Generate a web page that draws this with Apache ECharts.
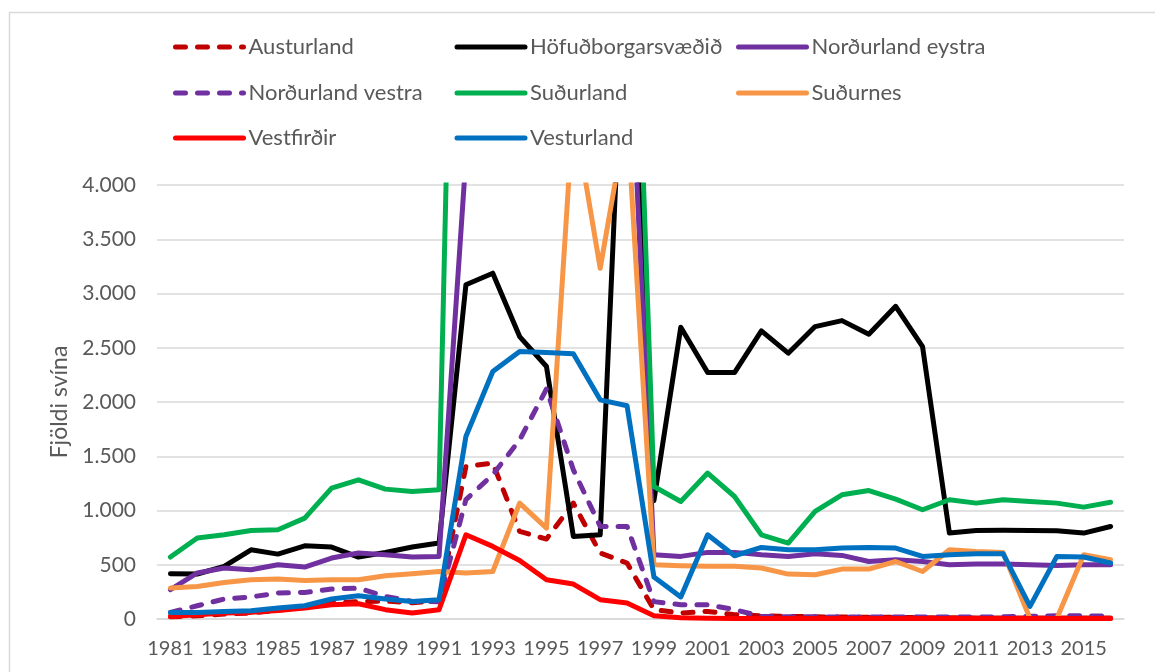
<!DOCTYPE html>
<html>
<head>
<meta charset="utf-8">
<script src="https://cdn.jsdelivr.net/npm/echarts@6/dist/echarts.min.js"></script>
<style>html,body{margin:0;padding:0;background:#fff;}#c{width:1155px;height:672px;}</style>
</head>
<body>
<div id="c"></div>
<script>
const years = ['1981','1982','1983','1984','1985','1986','1987','1988','1989','1990','1991','1992','1993','1994','1995','1996','1997','1998','1999','2000','2001','2002','2003','2004','2005','2006','2007','2008','2009','2010','2011','2012','2013','2014','2015','2016'];
const yTicks = [0, 500, 1000, 1500, 2000, 2500, 3000, 3500, 4000];

const austurland = [20,30,45,55,80,110,150,160,165,150,170,1405,1437,807,737,1068,608,516,86,55,70,40,30,25,20,18,15,15,12,12,10,10,10,10,10,10];
const hofudborg = [417,415,485,638,598,675,663,571,613,663,700,3081,3187,2603,2327,761,776,6400,1090,2689,2271,2271,2655,2450,2695,2750,2625,2882,2511,792,815,818,816,813,792,853];
const nordEystra = [270,424,470,454,500,479,562,608,592,571,577,4250,4700,4900,5200,5400,5600,6000,592,577,614,614,592,577,601,586,530,546,530,500,506,506,500,494,500,500];
const nordVestra = [61,122,184,203,240,245,276,285,208,162,160,1100,1330,1650,2120,1375,853,853,160,132,132,86,24,20,20,18,18,18,18,18,18,20,25,30,30,25];
const sudurland = [571,746,776,816,822,930,1206,1283,1197,1175,1191,12000,11500,11000,10500,10000,9500,8400,1221,1083,1345,1129,776,700,991,1145,1184,1105,1007,1099,1068,1099,1083,1068,1031,1076];
const sudurnes = [285,300,337,362,368,355,362,362,399,417,438,424,438,1068,838,4700,3233,4650,500,491,486,486,470,414,408,460,460,530,438,638,623,614,5,5,592,546];
const vestfirdir = [24,40,55,61,79,101,132,141,86,55,86,776,669,540,362,322,178,147,30,12,8,5,5,5,5,5,5,5,5,5,5,5,5,5,5,5];
const vesturland = [61,61,70,76,101,122,184,215,184,162,178,1682,2281,2465,2456,2444,2020,1965,387,203,776,583,660,638,638,654,660,654,577,592,601,601,116,577,571,516];

const seriesDefs = [
  {name:'Austurland', data:austurland, color:'#C00000', dashed:true},
  {name:'Höfuðborgarsvæðið', data:hofudborg, color:'#000000'},
  {name:'Norðurland eystra', data:nordEystra, color:'#7030A0'},
  {name:'Norðurland vestra', data:nordVestra, color:'#7030A0', dashed:true},
  {name:'Suðurland', data:sudurland, color:'#00B050'},
  {name:'Suðurnes', data:sudurnes, color:'#F79646'},
  {name:'Vestfirðir', data:vestfirdir, color:'#FF0000'},
  {name:'Vesturland', data:vesturland, color:'#0070C0'}
];

const font = 'Lato';
const txt = '#595959';
const LW = 5;

function legendRow(names, top) {
  return {
    data: names,
    left: 173, top: top,
    orient: 'horizontal',
    itemWidth: 68, itemHeight: 14, itemGap: 6,
    padding: 0,
    itemStyle: {opacity: 0},
    lineStyle: {width: LW, cap: 'round', opacity: 1},
    textStyle: {color: txt, fontSize: 22, fontFamily: font, width: 200, lineHeight: 26}
  };
}

const chart = echarts.init(document.getElementById('c'), null, {renderer: 'canvas'});
chart.setOption({
  animation: false,
  backgroundColor: '#fff',
  graphic: [{
    type: 'rect', left: 7, top: 10, silent: true,
    shape: {x: 0, y: 0, width: 1160, height: 680},
    style: {fill: 'none', stroke: '#d9d9d9', lineWidth: 1.5}
  }],
  legend: [
    legendRow(['Austurland','Höfuðborgarsvæðið','Norðurland eystra'], 34),
    legendRow(['Norðurland vestra','Suðurland','Suðurnes'], 80),
    legendRow(['Vestfirðir','Vesturland'], 125)
  ],
  grid: {left: 157, right: 31, top: 185, bottom: 53},
  xAxis: {
    type: 'category', data: years, boundaryGap: true,
    axisLine: {lineStyle: {color: '#d9d9d9', width: 1.5}},
    axisTick: {show: false},
    axisLabel: {interval: 1, color: txt, fontSize: 20, fontFamily: font, margin: 20}
  },
  yAxis: {
    type: 'value', min: yTicks[0], max: yTicks[yTicks.length-1], interval: 500,
    name: 'Fjöldi svína', nameLocation: 'middle', nameGap: 60,
    nameTextStyle: {color: txt, fontSize: 23, fontFamily: font},
    axisLine: {show: false}, axisTick: {show: false},
    splitLine: {lineStyle: {color: '#d9d9d9', width: 1.5}},
    axisLabel: {color: txt, fontSize: 21, fontFamily: font, margin: 21,
      formatter: v => String(v).replace(/\B(?=(\d{3})+(?!\d))/g, '.')}
  },
  series: seriesDefs.map(s => ({
    name: s.name, type: 'line', data: s.data, symbol: 'none', clip: true,
    color: s.color,
    lineStyle: {color: s.color, width: LW, type: s.dashed ? [10, 12] : 'solid', cap: 'round', join: 'round'},
    itemStyle: {color: s.color}
  }))
});
</script>
</body>
</html>
